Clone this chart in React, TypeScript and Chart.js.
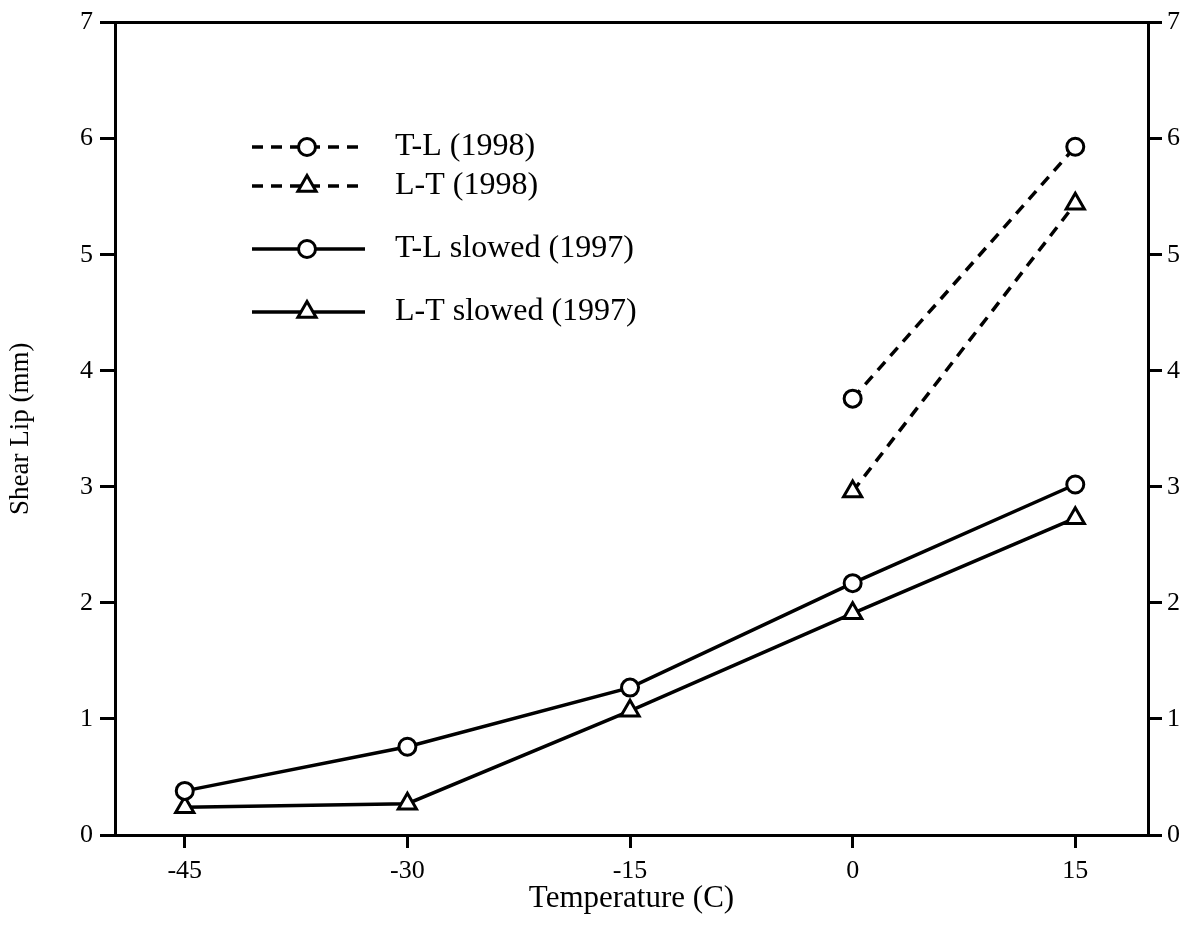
import React, { useEffect, useRef } from "react";
import { Chart, registerables } from "chart.js";
import { drawPoint } from "chart.js/helpers";

Chart.register(...registerables);

const temps = [-45, -30, -15, 0, 15];
const xTickValues = [-45, -30, -15, 0, 15];
const yTickValues = [0, 1, 2, 3, 4, 5, 6, 7];
const tl1998 = [null, null, null, 3.76, 5.93];
const lt1998 = [null, null, null, 2.96, 5.44];
const tlSlowed1997 = [0.38, 0.76, 1.27, 2.17, 3.02];
const ltSlowed1997 = [0.24, 0.27, 1.07, 1.91, 2.73];
const seriesLabels = ["T-L (1998)", "L-T (1998)", "T-L slowed (1997)", "L-T slowed (1997)"];
const xTitle = "Temperature (C)";
const yTitle = "Shear Lip (mm)";

const FONT = "'Liberation Serif', 'Times New Roman', serif";

function toPoints(vals: (number | null)[]) {
  return temps
    .map((t, i) => (vals[i] === null ? null : { x: t, y: vals[i] as number }))
    .filter((p) => p !== null) as { x: number; y: number }[];
}

const legendPlugin = {
  id: "customLegend",
  afterDatasetsDraw(chart: any) {
    const ctx = chart.ctx;
    const ys = [147, 186, 249, 312];
    const x0 = 252;
    const x1 = 365;
    const xm = 307;
    chart.data.datasets.forEach((ds: any, i: number) => {
      const y = ys[i];
      ctx.save();
      ctx.strokeStyle = "#000";
      ctx.lineWidth = ds.borderWidth;
      ctx.setLineDash(ds.borderDash || []);
      ctx.beginPath();
      ctx.moveTo(x0, y);
      ctx.lineTo(x1, y);
      ctx.stroke();
      ctx.setLineDash([]);
      ctx.fillStyle = "#fff";
      ctx.strokeStyle = "#000";
      ctx.lineWidth = ds.pointBorderWidth;
      drawPoint(ctx, { pointStyle: ds.pointStyle, radius: ds.pointRadius, rotation: 0, borderWidth: ds.pointBorderWidth }, xm, y);
      ctx.fillStyle = "#000";
      ctx.font = `32px ${FONT}`;
      ctx.textAlign = "left";
      ctx.textBaseline = "middle";
      ctx.fillText(ds.label, 395, y);
      ctx.restore();
    });
  },
};

const topBorderPlugin = {
  id: "topBorder",
  afterDraw(chart: any) {
    const { ctx, chartArea } = chart;
    ctx.save();
    ctx.strokeStyle = "#000";
    ctx.lineWidth = 3;
    ctx.beginPath();
    ctx.moveTo(chartArea.left - 1, chartArea.top);
    ctx.lineTo(chartArea.right + 1, chartArea.top);
    ctx.stroke();
    ctx.restore();
  },
};

export default function App() {
  const ref = useRef<HTMLCanvasElement | null>(null);
  useEffect(() => {
    if (!ref.current) return;
    const mk = (label: string, vals: (number | null)[], style: string, dashed: boolean) => ({
      label,
      data: toPoints(vals),
      showLine: true,
      borderColor: "#000",
      borderWidth: 3.5,
      borderDash: dashed ? [11, 8] : [],
      pointStyle: style,
      pointRadius: style === "triangle" ? 10.5 : 8.5,
      pointBorderWidth: 3,
      pointBackgroundColor: "#fff",
      pointBorderColor: "#000",
      backgroundColor: "#fff",
      fill: false,
    });
    const yScaleCommon = {
      type: "linear",
      min: 0,
      max: 7,
      afterBuildTicks: (scale: any) => {
        scale.ticks = yTickValues.map((v) => ({ value: v }));
      },
      grid: { drawOnChartArea: false, drawTicks: true, tickLength: 15, color: "#000", lineWidth: 3 },
      border: { display: true, color: "#000", width: 3 },
      ticks: { color: "#000", font: { family: FONT, size: 26 }, padding: 7 },
    };
    const chart = new Chart(ref.current, {
      type: "scatter",
      data: {
        datasets: [
          mk(seriesLabels[0], tl1998, "circle", true),
          mk(seriesLabels[1], lt1998, "triangle", true),
          mk(seriesLabels[2], tlSlowed1997, "circle", false),
          mk(seriesLabels[3], ltSlowed1997, "triangle", false),
        ],
      },
      options: {
        animation: false,
        responsive: true,
        maintainAspectRatio: false,
        layout: { padding: { top: 18, left: 0, right: 0, bottom: 0 } },
        plugins: { legend: { display: false }, tooltip: { enabled: false } },
        scales: {
          x: {
            type: "linear",
            position: "bottom",
            min: -49.7,
            max: 19.9,
            afterBuildTicks: (scale: any) => {
              scale.ticks = xTickValues.map((v) => ({ value: v }));
            },
            afterFit: (scale: any) => {
              scale.height = 112;
            },
            grid: { drawOnChartArea: false, drawTicks: true, tickLength: 13, color: "#000", lineWidth: 3 },
            border: { display: true, color: "#000", width: 3 },
            ticks: { color: "#000", font: { family: FONT, size: 26 }, padding: 8 },
            title: { display: true, text: xTitle, color: "#000", font: { family: FONT, size: 31 }, padding: { top: 10, bottom: 30 } },
          },
          y: {
            ...yScaleCommon,
            position: "left",
            afterFit: (scale: any) => {
              scale.width = 115;
            },
            title: { display: true, text: yTitle, color: "#000", font: { family: FONT, size: 27 }, padding: { top: 5, bottom: 0 } },
          },
          y2: {
            ...yScaleCommon,
            position: "right",
            grid: { drawOnChartArea: false, drawTicks: true, tickLength: 14, color: "#000", lineWidth: 3 },
            ticks: { color: "#000", font: { family: FONT, size: 26 }, padding: 5 },
            afterFit: (scale: any) => {
              scale.width = 42;
            },
          },
        },
      } as any,
      plugins: [legendPlugin, topBorderPlugin],
    } as any);
    return () => chart.destroy();
  }, []);
  return (
    <div style={{ position: "fixed", left: 0, top: 0, width: 1190, height: 947, background: "#fff" }}>
      <canvas ref={ref} />
    </div>
  );
}
